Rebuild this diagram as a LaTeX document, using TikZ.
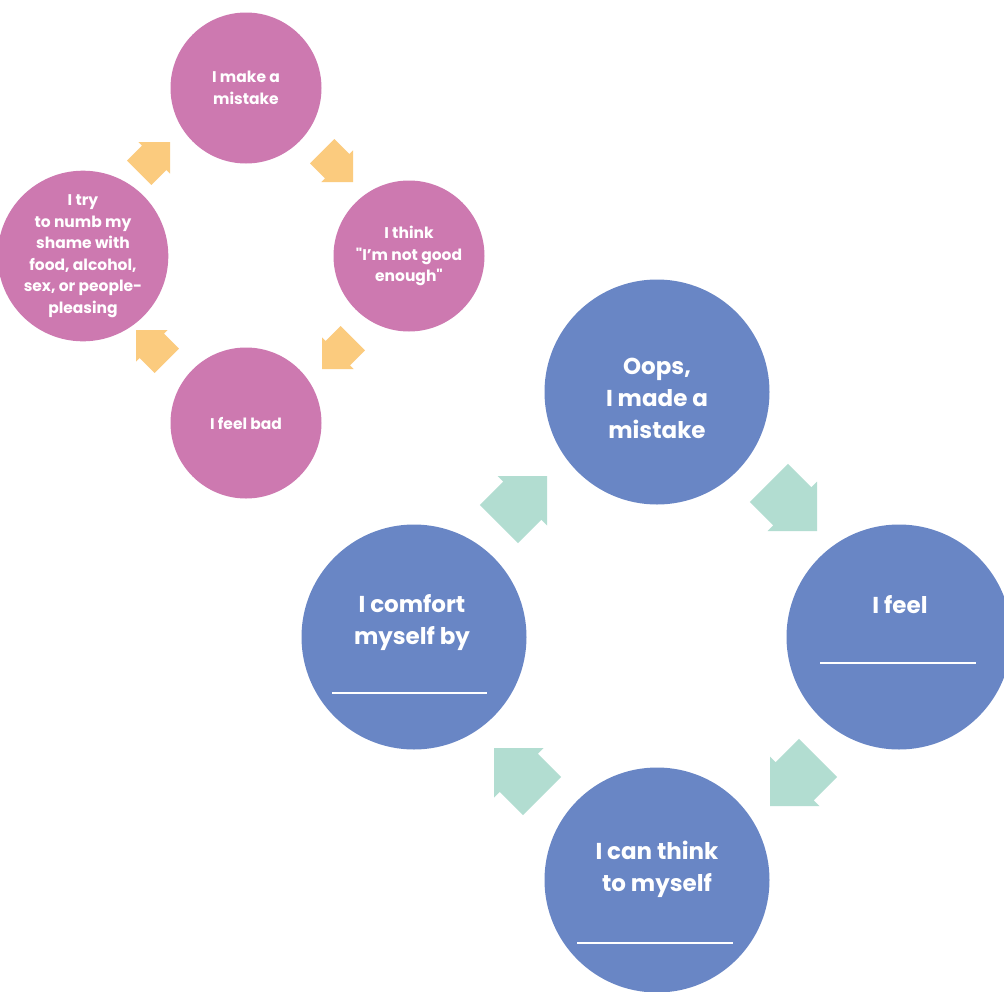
\documentclass[tikz,border=0pt]{standalone}
\usepackage{fontspec}
\setmainfont{Poppins}[Ligatures=TeXOff]
\definecolor{shame}{HTML}{CD79B0}
\definecolor{kind}{HTML}{6986C5}
\definecolor{sand}{HTML}{FBCB7E}
\definecolor{mint}{HTML}{B2DDD1}

\begin{document}
\begin{tikzpicture}[
  x=1pt, y=-1pt,
  loop circle/.style={circle, inner sep=0pt, text=white, align=center},
  shame circle/.style={loop circle, fill=shame, minimum size=151pt,
    font=\bfseries\fontsize{15.5}{21.5}\selectfont},
  kind circle/.style={loop circle, fill=kind, minimum size=225pt},
  kind text/.style={text=white, align=center, inner sep=0pt,
    font=\bfseries\fontsize{23}{32}\selectfont},
  blank/.style={draw=white, line width=1.3pt},
  turn/.pic={
    \fill[pic actions] (0,0) -- (-35,35) -- (-35,27) -- (-68,27)
      -- (-68,-27) -- (-35,-27) -- (-35,-35) -- cycle;
  },
]
\fill[white] (0,0) rectangle (1004,991);
\useasboundingbox (0,0) rectangle (1004,991);

% the old loop
\node[shame circle] (mistake) at (246,88)  {I make a\\mistake};
\node[shame circle] (think)   at (409,256) {I think\\"I’m not good\\enough"};
\node[shame circle] (bad)     at (246,423) {I feel bad};
\node[shame circle] (numb)    at (83,256)  {I try\\to numb my\\shame with\\food, alcohol,\\sex, or people-\\pleasing};

\pic[fill=sand, rotate=45,   scale=.64] at (170,142) {turn};
\pic[fill=sand, rotate=-45,  scale=.64] at (353,182) {turn};
\pic[fill=sand, rotate=-135, scale=.64] at (322,369) {turn};
\pic[fill=sand, rotate=135,  scale=.64] at (136,330) {turn};

% the kinder loop
\node[kind circle] (oops)    at (657,392) {};
\node[kind circle] (feel)    at (899,637) {};
\node[kind circle] (tell)    at (657,880) {};
\node[kind circle] (comfort) at (414,637) {};

\node[kind text] (oopstxt)    at (657,398) {Oops,\\I made a\\mistake};
\node[kind text] (feeltxt)    at (900,605) {I feel};
\node[kind text] (telltxt)    at (657,869) {I can think\\to myself};
\node[kind text] (comforttxt) at (412,623) {I comfort\\myself by};

\draw[blank] (820,663) -- (976,663);
\draw[blank] (577,943) -- (733,943);
\draw[blank] (332,693) -- (487,693);

\pic[fill=mint, rotate=45]   at (547,476) {turn};
\pic[fill=mint, rotate=-45]  at (817,531) {turn};
\pic[fill=mint, rotate=-135] at (770,806) {turn};
\pic[fill=mint, rotate=135]  at (494,748) {turn};
\end{tikzpicture}
\end{document}
